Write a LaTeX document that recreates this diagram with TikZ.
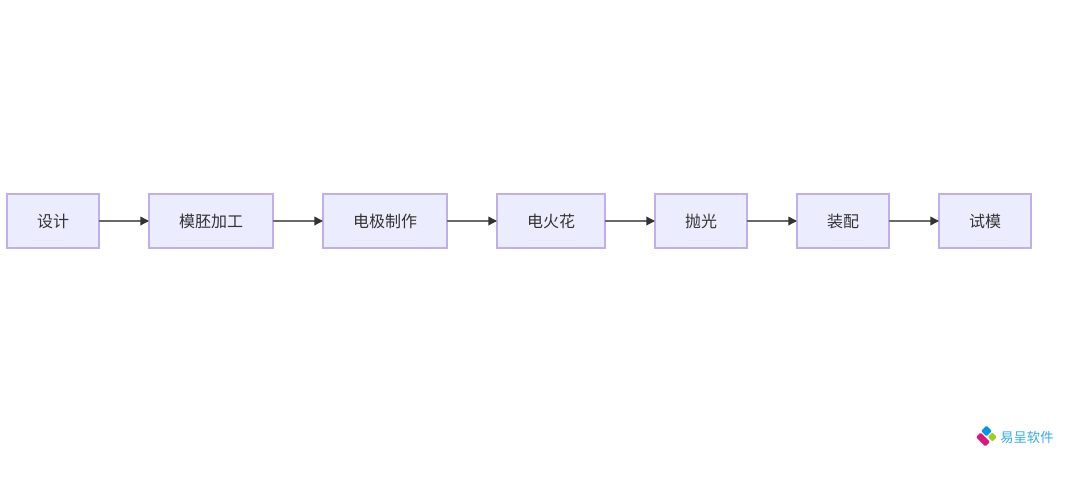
\documentclass[tikz,border=0pt]{standalone}
\usepackage{fontspec}
\newfontfamily\cjk{Noto Sans CJK SC}
\usepackage{tikz}
\usetikzlibrary{
  arrows.meta,
  positioning,
}
\definecolor{boxfill}{RGB}{236, 236, 255}
\definecolor{boxline}{RGB}{193, 175, 236}
\definecolor{flowline}{RGB}{51, 51, 51}
\definecolor{flowgrey}{RGB}{105, 105, 105}
\definecolor{logoblue}{RGB}{0, 150, 230}
\definecolor{logogreen}{RGB}{160, 205, 30}
\definecolor{logopink}{RGB}{225, 20, 125}
\definecolor{logotext}{RGB}{50, 170, 235}
\tikzstyle{stage} = [
  rectangle,
  draw=boxline,
  fill=boxfill,
  line width=1.4pt,
  outer sep=0pt,
  minimum height=40.5pt,
  inner xsep=22.5pt,
  inner ysep=0pt,
  text=flowline,
  font=\cjk\fontsize{12pt}{14pt}\selectfont,
]
\tikzstyle{arrow} = [
  -{Triangle[length=6.5pt,width=6.5pt,color=flowline]},
  line width=1pt,
  flowgrey,
]
\tikzstyle{logopart} = [
  rectangle,
  rounded corners=0.8pt,
  rotate=45,
  inner sep=0pt,
]
\begin{document}
\begin{tikzpicture}[x=0.75pt,y=-0.75pt,node distance=37.5pt]

  \useasboundingbox (0,0) rectangle (1090,484);

  \node[stage,anchor=west] (s1) at (7,221) {设计};
  \node[stage] (s2) [right=of s1] {模胚加工};
  \node[stage] (s3) [right=of s2] {电极制作};
  \node[stage] (s4) [right=of s3] {电火花};
  \node[stage] (s5) [right=of s4] {抛光};
  \node[stage] (s6) [right=of s5] {装配};
  \node[stage] (s7) [right=of s6] {试模};

  \draw[arrow] (s1) -- (s2);
  \draw[arrow] (s2) -- (s3);
  \draw[arrow] (s3) -- (s4);
  \draw[arrow] (s4) -- (s5);
  \draw[arrow] (s5) -- (s6);
  \draw[arrow] (s6) -- (s7);

  % logo
  \node[logopart,fill=logoblue,minimum width=5.8pt,minimum height=5.8pt] (l1) at (986.5,431) {};
  \node[logopart,fill=logogreen,minimum width=4.8pt,minimum height=4.8pt] (l2) at (992.3,437) {};
  \node[logopart,fill=logopink,minimum width=10pt,minimum height=4.8pt,rotate=-90] (l3) at (983,439.5) {};
  \node[anchor=west,inner sep=0pt,text=logotext,font=\cjk\fontsize{10pt}{12pt}\selectfont] (logo) at (1000,437) {易呈软件};

\end{tikzpicture}
\end{document}
